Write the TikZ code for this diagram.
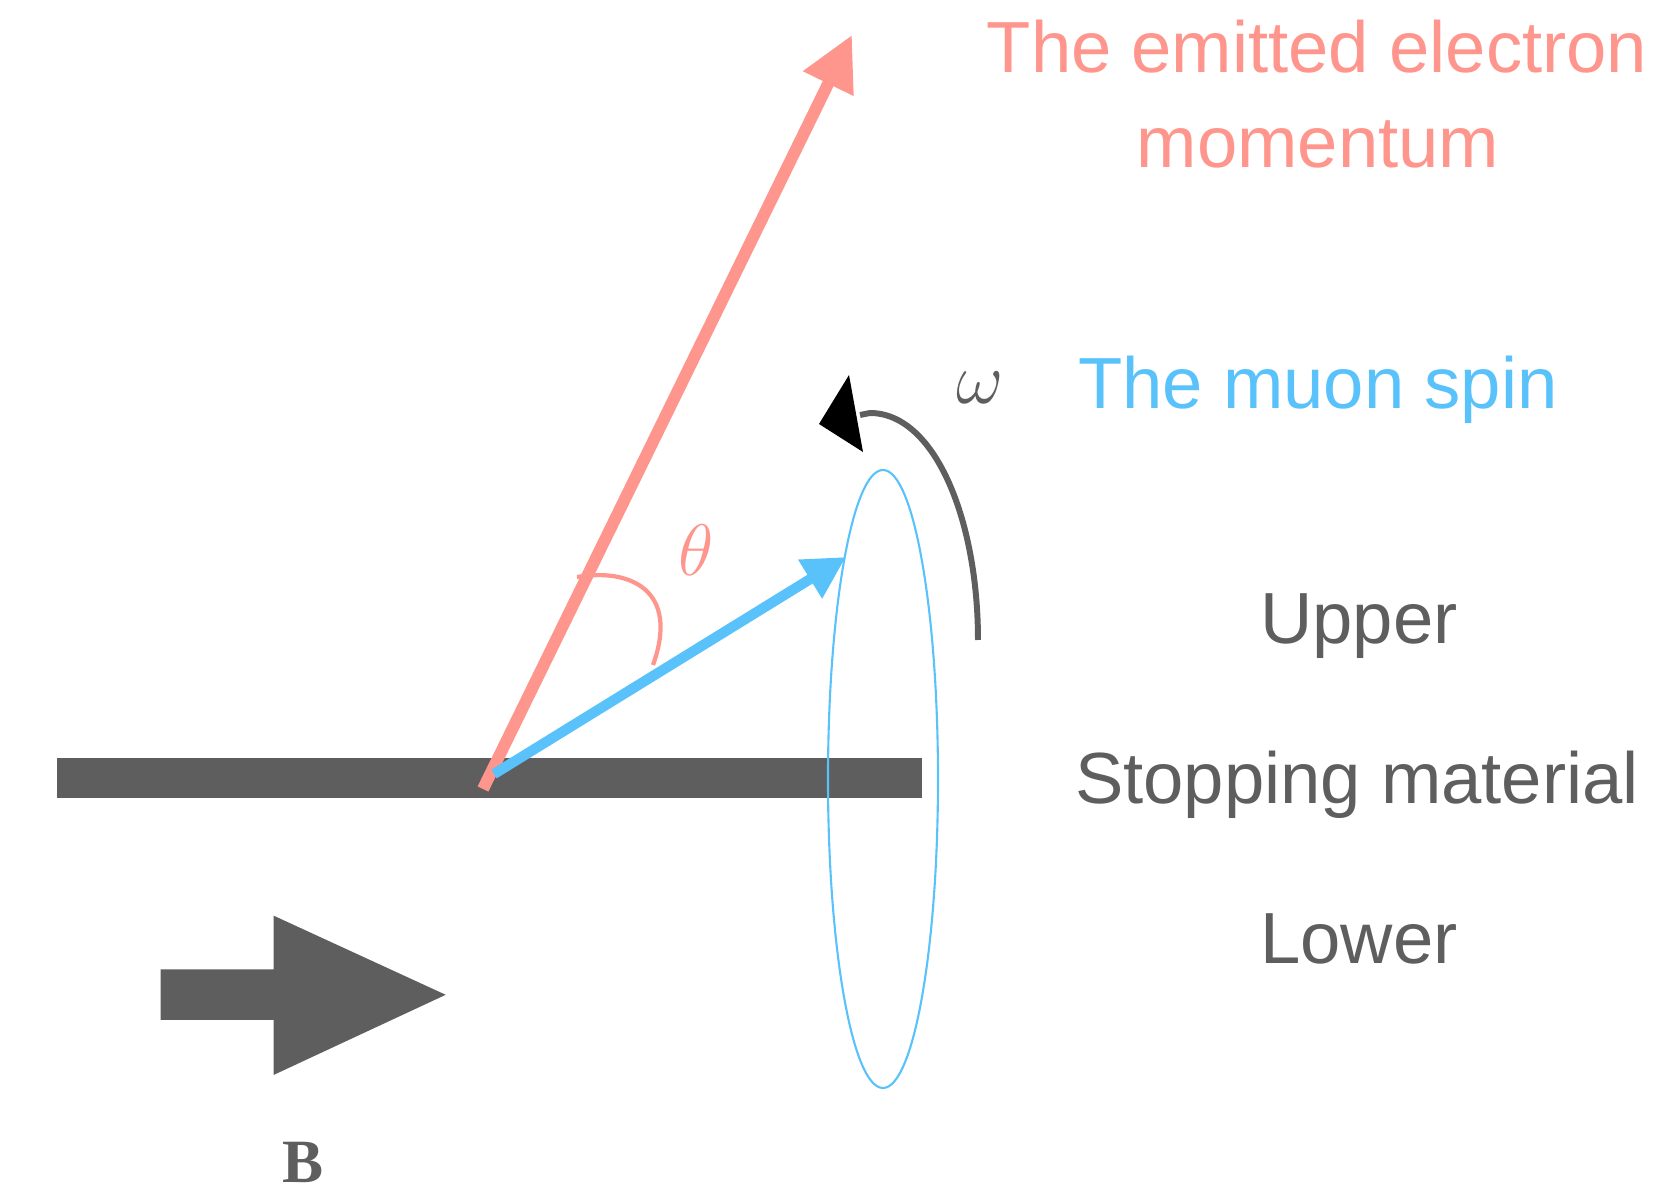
\documentclass[tikz,border=0pt]{standalone}
\usepackage[no-math]{fontspec}
\newfontfamily\labfont{Liberation Sans}
\newfontfamily\bfontB{Liberation Serif}
\usetikzlibrary{arrows.meta}
\definecolor{epink}{HTML}{FF968D}
\definecolor{mblue}{HTML}{5AC2FB}
\definecolor{dgray}{HTML}{5E5E5E}
\tikzset{
  lab/.style={inner sep=0pt, anchor=base, font=\labfont\fontsize{20.6pt}{24pt}\selectfont},
  mathlab/.style={inner sep=0pt, font=\fontsize{20pt}{24pt}\selectfont},
  omegalab/.style={inner sep=0pt, font=\fontsize{22pt}{26pt}\selectfont},
  electron/.style={draw=epink, line width=3.4pt, -{Triangle[length=15.4pt,width=15.1pt]}},
  spin/.style={draw=mblue, line width=2.9pt, -{Triangle[length=12pt,width=12.2pt]}},
}
\begin{document}
\begin{tikzpicture}[x=0.01cm,y=-0.01cm]
\useasboundingbox (0,0) rectangle (1656,1188);
% stopping material bar
\fill[dgray] (57,758) rectangle (922,798);
% named points
\coordinate (eStart) at (483,789);
\coordinate (eTip) at (852,35);
\coordinate (sStart) at (494,774);
\coordinate (sTip) at (846,557);
\coordinate (ellC) at (883,779);
% precession ellipse
\draw[mblue, line width=0.6pt] (ellC) ellipse [x radius=55, y radius=309];
% arrows
\draw[electron] (eStart) -- (eTip);
\draw[spin] (sStart) -- (sTip);
% theta arc
\coordinate (thA) at (577,577);
\coordinate (thB) at (653,665);
\draw[epink, line width=1.2pt] (thA) .. controls (630,568) and (680,590) .. (thB);
\node[mathlab, text=epink] (theta) at (696,550) {$\theta$};
% omega arc
\coordinate (omA) at (978,640);
\coordinate (omB) at (870,413);
\coordinate (omC) at (860,415);
\draw[dgray, line width=1.7pt] (omA) .. controls (978,520) and (935,413) .. (omB) -- (omC);
\fill[black] (849,375) -- (819,424) -- (863,452) -- cycle;
\node[omegalab, text=dgray] (omega) at (980,388) {$\omega$};
% big B arrow
\fill[dgray] (160.5,969.5) -- (273.5,969.5) -- (273.5,915.6) -- (445.7,994.8)
  -- (273.5,1075) -- (273.5,1020) -- (160.5,1020) -- cycle;
\node[inner sep=0pt, text=dgray, font=\bfontB\bfseries\fontsize{17.5pt}{21pt}\selectfont] (B) at (303,1162) {B};
% labels
\node[lab, text=epink] (el1) at (1317,73) {The emitted electron};
\node[lab, text=epink] (el2) at (1318,168) {momentum};
\node[lab, text=mblue] (ms) at (1318,409) {The muon spin};
\node[lab, text=dgray] (up) at (1359,644) {Upper};
\node[lab, text=dgray] (sm) at (1357,804) {Stopping material};
\node[lab, text=dgray] (lo) at (1359,963) {Lower};
\end{tikzpicture}
\end{document}
